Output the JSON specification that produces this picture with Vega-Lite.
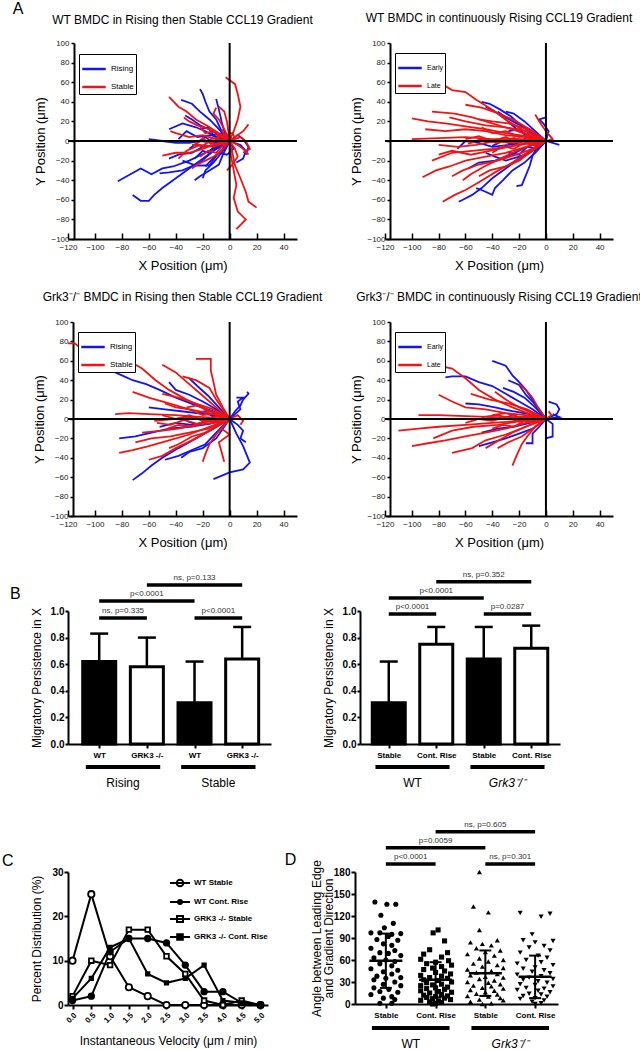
{
"$schema":"https://vega.github.io/schema/vega-lite/v6.json",
"padding":{"left":2,"top":0,"right":0,"bottom":0},
"background":"white",
"config":{"view":{"stroke":null},"font":"Liberation Sans","axis":{"grid":false,"labelOverlap":false,"labelFlush":false,"tickCount":30,"domainColor":"black","tickColor":"black","labelColor":"black","titleColor":"black","titleFontWeight":"normal"},"title":{"fontWeight":"normal","fontSize":12,"color":"black"},"legend":{"labelColor":"black"}},
"resolve":{"scale":{"color":"independent","fill":"independent","shape":"independent","size":"independent","stroke":"independent"},"legend":{"color":"independent","fill":"independent","shape":"independent","size":"independent","stroke":"independent"}},
"datasets":{
"a1":[
{"s":"Rising","k":1,"x":0,"y":0},{"s":"Rising","k":1,"x":-8,"y":-5},{"s":"Rising","k":1,"x":-18,"y":-12},{"s":"Rising","k":1,"x":-30,"y":-20},{"s":"Rising","k":1,"x":-42,"y":-26},{"s":"Rising","k":1,"x":-50,"y":-28},{"s":"Rising","k":1,"x":-58,"y":-34},{"s":"Rising","k":1,"x":-66,"y":-28},{"s":"Rising","k":1,"x":-75,"y":-35},{"s":"Rising","k":1,"x":-83,"y":-41},
{"s":"Rising","k":2,"x":0,"y":0},{"s":"Rising","k":2,"x":-10,"y":-8},{"s":"Rising","k":2,"x":-20,"y":-18},{"s":"Rising","k":2,"x":-30,"y":-28},{"s":"Rising","k":2,"x":-42,"y":-40},{"s":"Rising","k":2,"x":-50,"y":-48},{"s":"Rising","k":2,"x":-56,"y":-55},{"s":"Rising","k":2,"x":-60,"y":-61},{"s":"Rising","k":2,"x":-66,"y":-61},{"s":"Rising","k":2,"x":-72,"y":-55},
{"s":"Rising","k":3,"x":0,"y":0},{"s":"Rising","k":3,"x":-10,"y":-2},{"s":"Rising","k":3,"x":-22,"y":0},{"s":"Rising","k":3,"x":-30,"y":-2},{"s":"Rising","k":3,"x":-40,"y":-2},{"s":"Rising","k":3,"x":-50,"y":0},{"s":"Rising","k":3,"x":-60,"y":2},
{"s":"Rising","k":4,"x":0,"y":0},{"s":"Rising","k":4,"x":-6,"y":10},{"s":"Rising","k":4,"x":-10,"y":22},{"s":"Rising","k":4,"x":-15,"y":30},{"s":"Rising","k":4,"x":-18,"y":40},{"s":"Rising","k":4,"x":-20,"y":48},{"s":"Rising","k":4,"x":-22,"y":53},
{"s":"Rising","k":5,"x":0,"y":0},{"s":"Rising","k":5,"x":-8,"y":12},{"s":"Rising","k":5,"x":-15,"y":22},{"s":"Rising","k":5,"x":-22,"y":30},{"s":"Rising","k":5,"x":-28,"y":38},{"s":"Rising","k":5,"x":-36,"y":42},
{"s":"Rising","k":6,"x":0,"y":0},{"s":"Rising","k":6,"x":-12,"y":-10},{"s":"Rising","k":6,"x":-22,"y":-22},{"s":"Rising","k":6,"x":-35,"y":-30},{"s":"Rising","k":6,"x":-45,"y":-32},{"s":"Rising","k":6,"x":-52,"y":-33},
{"s":"Rising","k":7,"x":0,"y":0},{"s":"Rising","k":7,"x":-6,"y":-12},{"s":"Rising","k":7,"x":-12,"y":-22},{"s":"Rising","k":7,"x":-18,"y":-30},{"s":"Rising","k":7,"x":-20,"y":-38},
{"s":"Rising","k":8,"x":0,"y":0},{"s":"Rising","k":8,"x":-10,"y":4},{"s":"Rising","k":8,"x":-18,"y":10},{"s":"Rising","k":8,"x":-25,"y":14},{"s":"Rising","k":8,"x":-35,"y":18},{"s":"Rising","k":8,"x":-45,"y":12},
{"s":"Rising","k":9,"x":0,"y":0},{"s":"Rising","k":9,"x":-4,"y":10},{"s":"Rising","k":9,"x":-6,"y":20},{"s":"Rising","k":9,"x":-8,"y":32},{"s":"Rising","k":9,"x":-10,"y":43},
{"s":"Rising","k":10,"x":0,"y":0},{"s":"Rising","k":10,"x":8,"y":-4},{"s":"Rising","k":10,"x":12,"y":-10},{"s":"Rising","k":10,"x":10,"y":-18},{"s":"Rising","k":10,"x":5,"y":-22},
{"s":"Rising","k":11,"x":0,"y":0},{"s":"Rising","k":11,"x":-10,"y":-4},{"s":"Rising","k":11,"x":-20,"y":-6},{"s":"Rising","k":11,"x":-28,"y":-12},{"s":"Rising","k":11,"x":-38,"y":-14},{"s":"Rising","k":11,"x":-45,"y":-18},
{"s":"Rising","k":12,"x":0,"y":0},{"s":"Rising","k":12,"x":-14,"y":6},{"s":"Rising","k":12,"x":-24,"y":4},{"s":"Rising","k":12,"x":-32,"y":10},{"s":"Rising","k":12,"x":-38,"y":2},
{"s":"Rising","k":13,"x":0,"y":0},{"s":"Rising","k":13,"x":-5,"y":-14},{"s":"Rising","k":13,"x":-8,"y":-24},{"s":"Rising","k":13,"x":-15,"y":-30},{"s":"Rising","k":13,"x":-22,"y":-36},{"s":"Rising","k":13,"x":-26,"y":-40},
{"s":"Rising","k":14,"x":0,"y":0},{"s":"Rising","k":14,"x":-6,"y":4},{"s":"Rising","k":14,"x":-12,"y":10},{"s":"Rising","k":14,"x":-22,"y":16},{"s":"Rising","k":14,"x":-28,"y":22},{"s":"Rising","k":14,"x":-33,"y":26},
{"s":"Rising","k":15,"x":0,"y":0},{"s":"Rising","k":15,"x":6,"y":6},{"s":"Rising","k":15,"x":10,"y":2},{"s":"Rising","k":15,"x":14,"y":-6},{"s":"Rising","k":15,"x":12,"y":-14},
{"s":"Rising","k":16,"x":0,"y":0},{"s":"Rising","k":16,"x":-10,"y":-15},{"s":"Rising","k":16,"x":-15,"y":-25},{"s":"Rising","k":16,"x":-25,"y":-25},{"s":"Rising","k":16,"x":-35,"y":-20},
{"s":"Rising","k":17,"x":0,"y":0},{"s":"Rising","k":17,"x":-5,"y":3},{"s":"Rising","k":17,"x":-12,"y":-2},{"s":"Rising","k":17,"x":-18,"y":4},{"s":"Rising","k":17,"x":-25,"y":-3},{"s":"Rising","k":17,"x":-30,"y":-8},
{"s":"Rising","k":18,"x":0,"y":0},{"s":"Rising","k":18,"x":-4,"y":-6},{"s":"Rising","k":18,"x":-10,"y":-4},{"s":"Rising","k":18,"x":-16,"y":-12},{"s":"Rising","k":18,"x":-20,"y":-10},{"s":"Rising","k":18,"x":-26,"y":-18},
{"s":"Rising","k":19,"x":0,"y":0},{"s":"Rising","k":19,"x":-6,"y":8},{"s":"Rising","k":19,"x":-12,"y":6},{"s":"Rising","k":19,"x":-16,"y":14},{"s":"Rising","k":19,"x":-22,"y":12},
{"s":"Rising","k":20,"x":0,"y":0},{"s":"Rising","k":20,"x":3,"y":-8},{"s":"Rising","k":20,"x":-2,"y":-14},{"s":"Rising","k":20,"x":-8,"y":-12},{"s":"Rising","k":20,"x":-14,"y":-20},{"s":"Rising","k":20,"x":-18,"y":-26},
{"s":"Stable","k":1,"x":0,"y":0},{"s":"Stable","k":1,"x":3,"y":10},{"s":"Stable","k":1,"x":6,"y":22},{"s":"Stable","k":1,"x":8,"y":35},{"s":"Stable","k":1,"x":6,"y":48},{"s":"Stable","k":1,"x":4,"y":58},{"s":"Stable","k":1,"x":-3,"y":65},
{"s":"Stable","k":2,"x":0,"y":0},{"s":"Stable","k":2,"x":2,"y":-12},{"s":"Stable","k":2,"x":4,"y":-25},{"s":"Stable","k":2,"x":8,"y":-38},{"s":"Stable","k":2,"x":12,"y":-52},{"s":"Stable","k":2,"x":14,"y":-62},{"s":"Stable","k":2,"x":20,"y":-68},
{"s":"Stable","k":3,"x":0,"y":0},{"s":"Stable","k":3,"x":1,"y":-15},{"s":"Stable","k":3,"x":3,"y":-30},{"s":"Stable","k":3,"x":5,"y":-45},{"s":"Stable","k":3,"x":3,"y":-58},{"s":"Stable","k":3,"x":6,"y":-72},{"s":"Stable","k":3,"x":12,"y":-80},{"s":"Stable","k":3,"x":5,"y":-90},
{"s":"Stable","k":4,"x":0,"y":0},{"s":"Stable","k":4,"x":-8,"y":8},{"s":"Stable","k":4,"x":-16,"y":15},{"s":"Stable","k":4,"x":-25,"y":22},{"s":"Stable","k":4,"x":-32,"y":30},{"s":"Stable","k":4,"x":-38,"y":35},{"s":"Stable","k":4,"x":-45,"y":45},
{"s":"Stable","k":5,"x":0,"y":0},{"s":"Stable","k":5,"x":-10,"y":-3},{"s":"Stable","k":5,"x":-20,"y":-8},{"s":"Stable","k":5,"x":-30,"y":-12},{"s":"Stable","k":5,"x":-40,"y":-12},{"s":"Stable","k":5,"x":-50,"y":-15},
{"s":"Stable","k":6,"x":0,"y":0},{"s":"Stable","k":6,"x":-8,"y":6},{"s":"Stable","k":6,"x":-15,"y":12},{"s":"Stable","k":6,"x":-24,"y":16},{"s":"Stable","k":6,"x":-30,"y":20},{"s":"Stable","k":6,"x":-34,"y":24},
{"s":"Stable","k":7,"x":0,"y":0},{"s":"Stable","k":7,"x":5,"y":5},{"s":"Stable","k":7,"x":10,"y":10},{"s":"Stable","k":7,"x":14,"y":17},
{"s":"Stable","k":8,"x":0,"y":0},{"s":"Stable","k":8,"x":6,"y":-4},{"s":"Stable","k":8,"x":10,"y":-8},{"s":"Stable","k":8,"x":14,"y":-14},
{"s":"Stable","k":9,"x":0,"y":0},{"s":"Stable","k":9,"x":-6,"y":-10},{"s":"Stable","k":9,"x":-12,"y":-16},{"s":"Stable","k":9,"x":-18,"y":-20},{"s":"Stable","k":9,"x":-24,"y":-24},{"s":"Stable","k":9,"x":-28,"y":-28},
{"s":"Stable","k":10,"x":0,"y":0},{"s":"Stable","k":10,"x":-10,"y":2},{"s":"Stable","k":10,"x":-20,"y":6},{"s":"Stable","k":10,"x":-30,"y":4},{"s":"Stable","k":10,"x":-40,"y":8},{"s":"Stable","k":10,"x":-44,"y":10},
{"s":"Stable","k":11,"x":0,"y":0},{"s":"Stable","k":11,"x":-4,"y":12},{"s":"Stable","k":11,"x":-8,"y":22},{"s":"Stable","k":11,"x":-12,"y":28},{"s":"Stable","k":11,"x":-10,"y":34},
{"s":"Stable","k":12,"x":0,"y":0},{"s":"Stable","k":12,"x":-12,"y":-6},{"s":"Stable","k":12,"x":-22,"y":-4},{"s":"Stable","k":12,"x":-32,"y":-10},{"s":"Stable","k":12,"x":-38,"y":-18},
{"s":"Stable","k":13,"x":0,"y":0},{"s":"Stable","k":13,"x":4,"y":-8},{"s":"Stable","k":13,"x":6,"y":-16},{"s":"Stable","k":13,"x":2,"y":-24},{"s":"Stable","k":13,"x":-2,"y":-30},
{"s":"Stable","k":14,"x":0,"y":0},{"s":"Stable","k":14,"x":-6,"y":4},{"s":"Stable","k":14,"x":-14,"y":2},{"s":"Stable","k":14,"x":-20,"y":-6},{"s":"Stable","k":14,"x":-26,"y":-2},
{"s":"Stable","k":15,"x":0,"y":0},{"s":"Stable","k":15,"x":-2,"y":20},{"s":"Stable","k":15,"x":-4,"y":30},{"s":"Stable","k":15,"x":-8,"y":35},
{"s":"Stable","k":16,"x":0,"y":0},{"s":"Stable","k":16,"x":8,"y":4},{"s":"Stable","k":16,"x":12,"y":0},{"s":"Stable","k":16,"x":15,"y":-8},{"s":"Stable","k":16,"x":10,"y":-12},
{"s":"Stable","k":17,"x":0,"y":0},{"s":"Stable","k":17,"x":-4,"y":-4},{"s":"Stable","k":17,"x":-9,"y":2},{"s":"Stable","k":17,"x":-14,"y":-3},{"s":"Stable","k":17,"x":-20,"y":3},{"s":"Stable","k":17,"x":-24,"y":-2},
{"s":"Stable","k":18,"x":0,"y":0},{"s":"Stable","k":18,"x":-3,"y":6},{"s":"Stable","k":18,"x":-8,"y":4},{"s":"Stable","k":18,"x":-12,"y":10},{"s":"Stable","k":18,"x":-18,"y":8},{"s":"Stable","k":18,"x":-22,"y":14},
{"s":"Stable","k":19,"x":0,"y":0},{"s":"Stable","k":19,"x":-6,"y":-6},{"s":"Stable","k":19,"x":-10,"y":-12},{"s":"Stable","k":19,"x":-16,"y":-10},{"s":"Stable","k":19,"x":-22,"y":-16},
{"s":"Stable","k":20,"x":0,"y":0},{"s":"Stable","k":20,"x":4,"y":3},{"s":"Stable","k":20,"x":2,"y":8},{"s":"Stable","k":20,"x":-4,"y":6},{"s":"Stable","k":20,"x":-6,"y":12},
{"s":"Stable","k":21,"x":0,"y":0},{"s":"Stable","k":21,"x":-5,"y":1},{"s":"Stable","k":21,"x":-10,"y":-4},{"s":"Stable","k":21,"x":-15,"y":0},{"s":"Stable","k":21,"x":-20,"y":-5},{"s":"Stable","k":21,"x":-28,"y":-4}
],
"a2":[
{"s":"Early","k":1,"x":0,"y":0},{"s":"Early","k":1,"x":-10,"y":-10},{"s":"Early","k":1,"x":-20,"y":-18},{"s":"Early","k":1,"x":-30,"y":-28},{"s":"Early","k":1,"x":-40,"y":-38},{"s":"Early","k":1,"x":-48,"y":-48},{"s":"Early","k":1,"x":-55,"y":-55},{"s":"Early","k":1,"x":-62,"y":-60},{"s":"Early","k":1,"x":-65,"y":-62},
{"s":"Early","k":2,"x":0,"y":0},{"s":"Early","k":2,"x":-8,"y":-12},{"s":"Early","k":2,"x":-16,"y":-22},{"s":"Early","k":2,"x":-25,"y":-30},{"s":"Early","k":2,"x":-32,"y":-40},{"s":"Early","k":2,"x":-38,"y":-48},{"s":"Early","k":2,"x":-40,"y":-55},{"s":"Early","k":2,"x":-48,"y":-50},{"s":"Early","k":2,"x":-52,"y":-48},
{"s":"Early","k":3,"x":0,"y":0},{"s":"Early","k":3,"x":-10,"y":8},{"s":"Early","k":3,"x":-18,"y":15},{"s":"Early","k":3,"x":-26,"y":25},{"s":"Early","k":3,"x":-34,"y":32},{"s":"Early","k":3,"x":-42,"y":38},{"s":"Early","k":3,"x":-48,"y":40},
{"s":"Early","k":4,"x":0,"y":0},{"s":"Early","k":4,"x":-10,"y":5},{"s":"Early","k":4,"x":-20,"y":10},{"s":"Early","k":4,"x":-30,"y":22},{"s":"Early","k":4,"x":-38,"y":30},{"s":"Early","k":4,"x":-45,"y":35},
{"s":"Early","k":5,"x":0,"y":0},{"s":"Early","k":5,"x":-6,"y":-5},{"s":"Early","k":5,"x":-10,"y":-15},{"s":"Early","k":5,"x":-12,"y":-25},{"s":"Early","k":5,"x":-15,"y":-35},{"s":"Early","k":5,"x":-18,"y":-45},{"s":"Early","k":5,"x":-22,"y":-46},
{"s":"Early","k":6,"x":0,"y":0},{"s":"Early","k":6,"x":-12,"y":-12},{"s":"Early","k":6,"x":-20,"y":-16},{"s":"Early","k":6,"x":-30,"y":-20},{"s":"Early","k":6,"x":-38,"y":-16},{"s":"Early","k":6,"x":-45,"y":-12},
{"s":"Early","k":7,"x":0,"y":0},{"s":"Early","k":7,"x":-15,"y":2},{"s":"Early","k":7,"x":-28,"y":-4},{"s":"Early","k":7,"x":-40,"y":-6},{"s":"Early","k":7,"x":-50,"y":-2},{"s":"Early","k":7,"x":-60,"y":0},{"s":"Early","k":7,"x":-66,"y":-8},
{"s":"Early","k":8,"x":0,"y":0},{"s":"Early","k":8,"x":2,"y":10},{"s":"Early","k":8,"x":-2,"y":18},{"s":"Early","k":8,"x":-5,"y":22},{"s":"Early","k":8,"x":0,"y":24},
{"s":"Early","k":9,"x":0,"y":0},{"s":"Early","k":9,"x":5,"y":-2},{"s":"Early","k":9,"x":10,"y":-4},
{"s":"Early","k":10,"x":0,"y":0},{"s":"Early","k":10,"x":-8,"y":10},{"s":"Early","k":10,"x":-16,"y":20},{"s":"Early","k":10,"x":-24,"y":28},{"s":"Early","k":10,"x":-30,"y":30},
{"s":"Early","k":11,"x":0,"y":0},{"s":"Early","k":11,"x":-14,"y":-6},{"s":"Early","k":11,"x":-26,"y":-14},{"s":"Early","k":11,"x":-38,"y":-20},{"s":"Early","k":11,"x":-50,"y":-22},{"s":"Early","k":11,"x":-58,"y":-28},
{"s":"Early","k":12,"x":0,"y":0},{"s":"Early","k":12,"x":-12,"y":12},{"s":"Early","k":12,"x":-22,"y":18},{"s":"Early","k":12,"x":-30,"y":24},{"s":"Early","k":12,"x":-36,"y":30},
{"s":"Early","k":13,"x":0,"y":0},{"s":"Early","k":13,"x":-8,"y":-3},{"s":"Early","k":13,"x":-16,"y":2},{"s":"Early","k":13,"x":-24,"y":-4},{"s":"Early","k":13,"x":-32,"y":0},{"s":"Early","k":13,"x":-40,"y":-5},
{"s":"Early","k":14,"x":0,"y":0},{"s":"Early","k":14,"x":-6,"y":6},{"s":"Early","k":14,"x":-14,"y":4},{"s":"Early","k":14,"x":-20,"y":12},{"s":"Early","k":14,"x":-28,"y":10},
{"s":"Early","k":15,"x":0,"y":0},{"s":"Early","k":15,"x":-6,"y":-8},{"s":"Early","k":15,"x":-14,"y":-6},{"s":"Early","k":15,"x":-20,"y":-14},{"s":"Early","k":15,"x":-28,"y":-12},
{"s":"Late","k":1,"x":0,"y":0},{"s":"Late","k":1,"x":-8,"y":5},{"s":"Late","k":1,"x":-18,"y":12},{"s":"Late","k":1,"x":-28,"y":20},{"s":"Late","k":1,"x":-40,"y":32},{"s":"Late","k":1,"x":-52,"y":42},{"s":"Late","k":1,"x":-60,"y":50},{"s":"Late","k":1,"x":-70,"y":52},{"s":"Late","k":1,"x":-80,"y":60},{"s":"Late","k":1,"x":-88,"y":62},{"s":"Late","k":1,"x":-95,"y":60},{"s":"Late","k":1,"x":-105,"y":70},
{"s":"Late","k":2,"x":0,"y":0},{"s":"Late","k":2,"x":-15,"y":5},{"s":"Late","k":2,"x":-30,"y":8},{"s":"Late","k":2,"x":-45,"y":12},{"s":"Late","k":2,"x":-60,"y":15},{"s":"Late","k":2,"x":-75,"y":18},{"s":"Late","k":2,"x":-88,"y":20},{"s":"Late","k":2,"x":-100,"y":23},
{"s":"Late","k":3,"x":0,"y":0},{"s":"Late","k":3,"x":-15,"y":-6},{"s":"Late","k":3,"x":-30,"y":-12},{"s":"Late","k":3,"x":-45,"y":-16},{"s":"Late","k":3,"x":-60,"y":-20},{"s":"Late","k":3,"x":-72,"y":-26},{"s":"Late","k":3,"x":-82,"y":-30},{"s":"Late","k":3,"x":-92,"y":-37},
{"s":"Late","k":4,"x":0,"y":0},{"s":"Late","k":4,"x":-12,"y":-10},{"s":"Late","k":4,"x":-25,"y":-22},{"s":"Late","k":4,"x":-38,"y":-32},{"s":"Late","k":4,"x":-50,"y":-42},{"s":"Late","k":4,"x":-60,"y":-50},{"s":"Late","k":4,"x":-68,"y":-55},{"s":"Late","k":4,"x":-77,"y":-62},
{"s":"Late","k":5,"x":0,"y":0},{"s":"Late","k":5,"x":-20,"y":2},{"s":"Late","k":5,"x":-40,"y":2},{"s":"Late","k":5,"x":-60,"y":4},{"s":"Late","k":5,"x":-80,"y":3},{"s":"Late","k":5,"x":-100,"y":2},
{"s":"Late","k":6,"x":0,"y":0},{"s":"Late","k":6,"x":-12,"y":6},{"s":"Late","k":6,"x":-26,"y":12},{"s":"Late","k":6,"x":-40,"y":18},{"s":"Late","k":6,"x":-55,"y":24},{"s":"Late","k":6,"x":-68,"y":28},{"s":"Late","k":6,"x":-85,"y":30},
{"s":"Late","k":7,"x":0,"y":0},{"s":"Late","k":7,"x":-10,"y":10},{"s":"Late","k":7,"x":-22,"y":20},{"s":"Late","k":7,"x":-35,"y":28},{"s":"Late","k":7,"x":-48,"y":34},{"s":"Late","k":7,"x":-60,"y":37},
{"s":"Late","k":8,"x":0,"y":0},{"s":"Late","k":8,"x":-14,"y":-2},{"s":"Late","k":8,"x":-28,"y":-6},{"s":"Late","k":8,"x":-42,"y":-10},{"s":"Late","k":8,"x":-56,"y":-14},{"s":"Late","k":8,"x":-70,"y":-10},{"s":"Late","k":8,"x":-80,"y":-14},
{"s":"Late","k":9,"x":0,"y":0},{"s":"Late","k":9,"x":-10,"y":-8},{"s":"Late","k":9,"x":-22,"y":-14},{"s":"Late","k":9,"x":-36,"y":-20},{"s":"Late","k":9,"x":-50,"y":-24},{"s":"Late","k":9,"x":-62,"y":-30},{"s":"Late","k":9,"x":-70,"y":-36},
{"s":"Late","k":10,"x":0,"y":0},{"s":"Late","k":10,"x":-15,"y":4},{"s":"Late","k":10,"x":-30,"y":6},{"s":"Late","k":10,"x":-45,"y":10},{"s":"Late","k":10,"x":-60,"y":12},{"s":"Late","k":10,"x":-75,"y":10},{"s":"Late","k":10,"x":-90,"y":12},
{"s":"Late","k":11,"x":0,"y":0},{"s":"Late","k":11,"x":-10,"y":-4},{"s":"Late","k":11,"x":-22,"y":-10},{"s":"Late","k":11,"x":-34,"y":-18},{"s":"Late","k":11,"x":-46,"y":-26},{"s":"Late","k":11,"x":-56,"y":-34},{"s":"Late","k":11,"x":-62,"y":-40},
{"s":"Late","k":12,"x":0,"y":0},{"s":"Late","k":12,"x":-12,"y":2},{"s":"Late","k":12,"x":-24,"y":-2},{"s":"Late","k":12,"x":-38,"y":0},{"s":"Late","k":12,"x":-52,"y":-4},{"s":"Late","k":12,"x":-66,"y":-6},{"s":"Late","k":12,"x":-80,"y":-4},
{"s":"Late","k":13,"x":0,"y":0},{"s":"Late","k":13,"x":-8,"y":8},{"s":"Late","k":13,"x":-18,"y":14},{"s":"Late","k":13,"x":-28,"y":18},{"s":"Late","k":13,"x":-40,"y":20},{"s":"Late","k":13,"x":-50,"y":22},
{"s":"Late","k":14,"x":0,"y":0},{"s":"Late","k":14,"x":-10,"y":-10},{"s":"Late","k":14,"x":-20,"y":-20},{"s":"Late","k":14,"x":-30,"y":-26},{"s":"Late","k":14,"x":-42,"y":-30},{"s":"Late","k":14,"x":-50,"y":-36},
{"s":"Late","k":15,"x":0,"y":0},{"s":"Late","k":15,"x":5,"y":2},{"s":"Late","k":15,"x":0,"y":10},{"s":"Late","k":15,"x":-5,"y":20},{"s":"Late","k":15,"x":-8,"y":27},
{"s":"Late","k":16,"x":0,"y":0},{"s":"Late","k":16,"x":-15,"y":10},{"s":"Late","k":16,"x":-30,"y":14},{"s":"Late","k":16,"x":-45,"y":16},{"s":"Late","k":16,"x":-60,"y":20},{"s":"Late","k":16,"x":-72,"y":24},
{"s":"Late","k":17,"x":0,"y":0},{"s":"Late","k":17,"x":-20,"y":-4},{"s":"Late","k":17,"x":-40,"y":-8},{"s":"Late","k":17,"x":-55,"y":-10},{"s":"Late","k":17,"x":-70,"y":-12},{"s":"Late","k":17,"x":-85,"y":-20},
{"s":"Late","k":18,"x":0,"y":0},{"s":"Late","k":18,"x":-10,"y":3},{"s":"Late","k":18,"x":-20,"y":-2},{"s":"Late","k":18,"x":-30,"y":4},{"s":"Late","k":18,"x":-40,"y":0},{"s":"Late","k":18,"x":-50,"y":5},{"s":"Late","k":18,"x":-60,"y":2},
{"s":"Late","k":19,"x":0,"y":0},{"s":"Late","k":19,"x":-8,"y":-5},{"s":"Late","k":19,"x":-16,"y":-2},{"s":"Late","k":19,"x":-24,"y":-8},{"s":"Late","k":19,"x":-32,"y":-5},{"s":"Late","k":19,"x":-40,"y":-12},
{"s":"Late","k":20,"x":0,"y":0},{"s":"Late","k":20,"x":-10,"y":6},{"s":"Late","k":20,"x":-20,"y":4},{"s":"Late","k":20,"x":-30,"y":10},{"s":"Late","k":20,"x":-40,"y":8},{"s":"Late","k":20,"x":-48,"y":14},
{"s":"Late","k":21,"x":0,"y":0},{"s":"Late","k":21,"x":-12,"y":-2},{"s":"Late","k":21,"x":-24,"y":3},{"s":"Late","k":21,"x":-36,"y":-2},{"s":"Late","k":21,"x":-48,"y":2},{"s":"Late","k":21,"x":-58,"y":-3}
],
"a3":[
{"s":"Rising","k":1,"x":0,"y":0},{"s":"Rising","k":1,"x":-12,"y":8},{"s":"Rising","k":1,"x":-25,"y":14},{"s":"Rising","k":1,"x":-40,"y":22},{"s":"Rising","k":1,"x":-52,"y":30},{"s":"Rising","k":1,"x":-62,"y":36},{"s":"Rising","k":1,"x":-72,"y":40},{"s":"Rising","k":1,"x":-80,"y":45},{"s":"Rising","k":1,"x":-88,"y":50},{"s":"Rising","k":1,"x":-90,"y":55},{"s":"Rising","k":1,"x":-92,"y":58},
{"s":"Rising","k":2,"x":0,"y":0},{"s":"Rising","k":2,"x":-12,"y":-10},{"s":"Rising","k":2,"x":-25,"y":-20},{"s":"Rising","k":2,"x":-38,"y":-30},{"s":"Rising","k":2,"x":-50,"y":-40},{"s":"Rising","k":2,"x":-58,"y":-48},{"s":"Rising","k":2,"x":-65,"y":-56},{"s":"Rising","k":2,"x":-72,"y":-63},
{"s":"Rising","k":3,"x":0,"y":0},{"s":"Rising","k":3,"x":-15,"y":-5},{"s":"Rising","k":3,"x":-30,"y":-8},{"s":"Rising","k":3,"x":-45,"y":-10},{"s":"Rising","k":3,"x":-58,"y":-14},{"s":"Rising","k":3,"x":-70,"y":-18},{"s":"Rising","k":3,"x":-82,"y":-20},
{"s":"Rising","k":4,"x":0,"y":0},{"s":"Rising","k":4,"x":5,"y":-15},{"s":"Rising","k":4,"x":10,"y":-28},{"s":"Rising","k":4,"x":15,"y":-45},{"s":"Rising","k":4,"x":10,"y":-52},{"s":"Rising","k":4,"x":0,"y":-55},{"s":"Rising","k":4,"x":-12,"y":-62},
{"s":"Rising","k":5,"x":0,"y":0},{"s":"Rising","k":5,"x":4,"y":8},{"s":"Rising","k":5,"x":8,"y":14},{"s":"Rising","k":5,"x":10,"y":20},{"s":"Rising","k":5,"x":14,"y":26},{"s":"Rising","k":5,"x":13,"y":28},
{"s":"Rising","k":6,"x":0,"y":0},{"s":"Rising","k":6,"x":-10,"y":10},{"s":"Rising","k":6,"x":-20,"y":18},{"s":"Rising","k":6,"x":-30,"y":25},{"s":"Rising","k":6,"x":-40,"y":30},{"s":"Rising","k":6,"x":-45,"y":38},
{"s":"Rising","k":7,"x":0,"y":0},{"s":"Rising","k":7,"x":-12,"y":4},{"s":"Rising","k":7,"x":-24,"y":6},{"s":"Rising","k":7,"x":-36,"y":8},{"s":"Rising","k":7,"x":-48,"y":10},{"s":"Rising","k":7,"x":-60,"y":12},
{"s":"Rising","k":8,"x":0,"y":0},{"s":"Rising","k":8,"x":-10,"y":-14},{"s":"Rising","k":8,"x":-18,"y":-26},{"s":"Rising","k":8,"x":-28,"y":-32},{"s":"Rising","k":8,"x":-38,"y":-38},{"s":"Rising","k":8,"x":-48,"y":-42},
{"s":"Rising","k":9,"x":0,"y":0},{"s":"Rising","k":9,"x":-8,"y":12},{"s":"Rising","k":9,"x":-16,"y":24},{"s":"Rising","k":9,"x":-24,"y":34},{"s":"Rising","k":9,"x":-30,"y":42},
{"s":"Rising","k":10,"x":0,"y":0},{"s":"Rising","k":10,"x":6,"y":-6},{"s":"Rising","k":10,"x":10,"y":-12},{"s":"Rising","k":10,"x":8,"y":-20},{"s":"Rising","k":10,"x":12,"y":-24},
{"s":"Rising","k":11,"x":0,"y":0},{"s":"Rising","k":11,"x":-14,"y":-2},{"s":"Rising","k":11,"x":-28,"y":-6},{"s":"Rising","k":11,"x":-40,"y":-4},{"s":"Rising","k":11,"x":-52,"y":-8},
{"s":"Rising","k":12,"x":0,"y":0},{"s":"Rising","k":12,"x":-10,"y":-20},{"s":"Rising","k":12,"x":-20,"y":-30},{"s":"Rising","k":12,"x":-30,"y":-34},{"s":"Rising","k":12,"x":-36,"y":-40},
{"s":"Rising","k":13,"x":0,"y":0},{"s":"Rising","k":13,"x":8,"y":10},{"s":"Rising","k":13,"x":6,"y":18},{"s":"Rising","k":13,"x":10,"y":22},{"s":"Rising","k":13,"x":5,"y":22},
{"s":"Rising","k":14,"x":0,"y":0},{"s":"Rising","k":14,"x":-8,"y":-4},{"s":"Rising","k":14,"x":-16,"y":0},{"s":"Rising","k":14,"x":-24,"y":-6},{"s":"Rising","k":14,"x":-32,"y":-2},
{"s":"Rising","k":15,"x":0,"y":0},{"s":"Rising","k":15,"x":-6,"y":6},{"s":"Rising","k":15,"x":-12,"y":2},{"s":"Rising","k":15,"x":-18,"y":8},{"s":"Rising","k":15,"x":-26,"y":6},
{"s":"Stable","k":1,"x":0,"y":0},{"s":"Stable","k":1,"x":-10,"y":5},{"s":"Stable","k":1,"x":-20,"y":12},{"s":"Stable","k":1,"x":-32,"y":20},{"s":"Stable","k":1,"x":-45,"y":30},{"s":"Stable","k":1,"x":-55,"y":40},{"s":"Stable","k":1,"x":-65,"y":52},{"s":"Stable","k":1,"x":-75,"y":60},{"s":"Stable","k":1,"x":-90,"y":66},{"s":"Stable","k":1,"x":-105,"y":67},{"s":"Stable","k":1,"x":-115,"y":78},{"s":"Stable","k":1,"x":-120,"y":78},
{"s":"Stable","k":2,"x":0,"y":0},{"s":"Stable","k":2,"x":-20,"y":2},{"s":"Stable","k":2,"x":-40,"y":4},{"s":"Stable","k":2,"x":-60,"y":5},{"s":"Stable","k":2,"x":-75,"y":6},{"s":"Stable","k":2,"x":-85,"y":5},
{"s":"Stable","k":3,"x":0,"y":0},{"s":"Stable","k":3,"x":-15,"y":-8},{"s":"Stable","k":3,"x":-30,"y":-16},{"s":"Stable","k":3,"x":-45,"y":-22},{"s":"Stable","k":3,"x":-60,"y":-28},{"s":"Stable","k":3,"x":-72,"y":-32},{"s":"Stable","k":3,"x":-82,"y":-35},
{"s":"Stable","k":4,"x":0,"y":0},{"s":"Stable","k":4,"x":-5,"y":12},{"s":"Stable","k":4,"x":-10,"y":25},{"s":"Stable","k":4,"x":-12,"y":38},{"s":"Stable","k":4,"x":-14,"y":50},{"s":"Stable","k":4,"x":-14,"y":62},{"s":"Stable","k":4,"x":-25,"y":62},
{"s":"Stable","k":5,"x":0,"y":0},{"s":"Stable","k":5,"x":-10,"y":12},{"s":"Stable","k":5,"x":-20,"y":24},{"s":"Stable","k":5,"x":-30,"y":36},{"s":"Stable","k":5,"x":-40,"y":48},{"s":"Stable","k":5,"x":-50,"y":56},
{"s":"Stable","k":6,"x":0,"y":0},{"s":"Stable","k":6,"x":-15,"y":-12},{"s":"Stable","k":6,"x":-28,"y":-22},{"s":"Stable","k":6,"x":-40,"y":-30},{"s":"Stable","k":6,"x":-50,"y":-38},{"s":"Stable","k":6,"x":-60,"y":-42},
{"s":"Stable","k":7,"x":0,"y":0},{"s":"Stable","k":7,"x":-15,"y":6},{"s":"Stable","k":7,"x":-30,"y":10},{"s":"Stable","k":7,"x":-45,"y":16},{"s":"Stable","k":7,"x":-60,"y":22},{"s":"Stable","k":7,"x":-72,"y":28},
{"s":"Stable","k":8,"x":0,"y":0},{"s":"Stable","k":8,"x":-12,"y":-4},{"s":"Stable","k":8,"x":-25,"y":-6},{"s":"Stable","k":8,"x":-38,"y":-10},{"s":"Stable","k":8,"x":-50,"y":-12},{"s":"Stable","k":8,"x":-65,"y":-14},
{"s":"Stable","k":9,"x":0,"y":0},{"s":"Stable","k":9,"x":-10,"y":-16},{"s":"Stable","k":9,"x":-15,"y":-26},{"s":"Stable","k":9,"x":-18,"y":-36},{"s":"Stable","k":9,"x":-20,"y":-44},
{"s":"Stable","k":10,"x":0,"y":0},{"s":"Stable","k":10,"x":-6,"y":-10},{"s":"Stable","k":10,"x":0,"y":-16},{"s":"Stable","k":10,"x":-8,"y":-24},{"s":"Stable","k":10,"x":-4,"y":-44},
{"s":"Stable","k":11,"x":0,"y":0},{"s":"Stable","k":11,"x":-12,"y":10},{"s":"Stable","k":11,"x":-25,"y":16},{"s":"Stable","k":11,"x":-38,"y":22},{"s":"Stable","k":11,"x":-50,"y":26},
{"s":"Stable","k":12,"x":0,"y":0},{"s":"Stable","k":12,"x":-14,"y":-2},{"s":"Stable","k":12,"x":-28,"y":2},{"s":"Stable","k":12,"x":-42,"y":0},{"s":"Stable","k":12,"x":-56,"y":-2},
{"s":"Stable","k":13,"x":0,"y":0},{"s":"Stable","k":13,"x":-10,"y":20},{"s":"Stable","k":13,"x":-15,"y":32},{"s":"Stable","k":13,"x":-25,"y":40},{"s":"Stable","k":13,"x":-35,"y":44},
{"s":"Stable","k":14,"x":0,"y":0},{"s":"Stable","k":14,"x":6,"y":4},{"s":"Stable","k":14,"x":10,"y":-2},{"s":"Stable","k":14,"x":8,"y":-6},
{"s":"Stable","k":15,"x":0,"y":0},{"s":"Stable","k":15,"x":-16,"y":-10},{"s":"Stable","k":15,"x":-30,"y":-14},{"s":"Stable","k":15,"x":-44,"y":-18},{"s":"Stable","k":15,"x":-58,"y":-20},{"s":"Stable","k":15,"x":-70,"y":-24},
{"s":"Stable","k":16,"x":0,"y":0},{"s":"Stable","k":16,"x":-10,"y":6},{"s":"Stable","k":16,"x":-20,"y":4},{"s":"Stable","k":16,"x":-30,"y":10},{"s":"Stable","k":16,"x":-40,"y":12},{"s":"Stable","k":16,"x":-48,"y":16},
{"s":"Stable","k":17,"x":0,"y":0},{"s":"Stable","k":17,"x":-8,"y":-6},{"s":"Stable","k":17,"x":-18,"y":-14},{"s":"Stable","k":17,"x":-28,"y":-18},{"s":"Stable","k":17,"x":-38,"y":-26},{"s":"Stable","k":17,"x":-45,"y":-30},
{"s":"Stable","k":18,"x":0,"y":0},{"s":"Stable","k":18,"x":-10,"y":3},{"s":"Stable","k":18,"x":-20,"y":-2},{"s":"Stable","k":18,"x":-30,"y":4},{"s":"Stable","k":18,"x":-40,"y":0},{"s":"Stable","k":18,"x":-50,"y":4},
{"s":"Stable","k":19,"x":0,"y":0},{"s":"Stable","k":19,"x":-8,"y":-4},{"s":"Stable","k":19,"x":-18,"y":-2},{"s":"Stable","k":19,"x":-28,"y":-8},{"s":"Stable","k":19,"x":-38,"y":-6},{"s":"Stable","k":19,"x":-46,"y":-10},
{"s":"Stable","k":20,"x":0,"y":0},{"s":"Stable","k":20,"x":-8,"y":6},{"s":"Stable","k":20,"x":-16,"y":8},{"s":"Stable","k":20,"x":-24,"y":14},{"s":"Stable","k":20,"x":-32,"y":12},
{"s":"Stable","k":21,"x":0,"y":0},{"s":"Stable","k":21,"x":-12,"y":-1},{"s":"Stable","k":21,"x":-24,"y":-5},{"s":"Stable","k":21,"x":-34,"y":-1},{"s":"Stable","k":21,"x":-44,"y":-6},{"s":"Stable","k":21,"x":-54,"y":-4}
],
"a4":[
{"s":"Early","k":1,"x":0,"y":0},{"s":"Early","k":1,"x":-5,"y":10},{"s":"Early","k":1,"x":-10,"y":20},{"s":"Early","k":1,"x":-15,"y":30},{"s":"Early","k":1,"x":-20,"y":38},{"s":"Early","k":1,"x":-25,"y":45},{"s":"Early","k":1,"x":-30,"y":55},{"s":"Early","k":1,"x":-40,"y":60},
{"s":"Early","k":2,"x":0,"y":0},{"s":"Early","k":2,"x":-10,"y":10},{"s":"Early","k":2,"x":-20,"y":18},{"s":"Early","k":2,"x":-30,"y":26},{"s":"Early","k":2,"x":-40,"y":34},{"s":"Early","k":2,"x":-50,"y":38},{"s":"Early","k":2,"x":-60,"y":44},{"s":"Early","k":2,"x":-70,"y":44},{"s":"Early","k":2,"x":-75,"y":43},
{"s":"Early","k":3,"x":0,"y":0},{"s":"Early","k":3,"x":8,"y":5},{"s":"Early","k":3,"x":10,"y":10},{"s":"Early","k":3,"x":8,"y":15},{"s":"Early","k":3,"x":2,"y":18},
{"s":"Early","k":4,"x":0,"y":0},{"s":"Early","k":4,"x":-10,"y":-10},{"s":"Early","k":4,"x":-20,"y":-15},{"s":"Early","k":4,"x":-30,"y":-20},{"s":"Early","k":4,"x":-40,"y":-24},{"s":"Early","k":4,"x":-50,"y":-28},
{"s":"Early","k":5,"x":0,"y":0},{"s":"Early","k":5,"x":-5,"y":-8},{"s":"Early","k":5,"x":-10,"y":-15},{"s":"Early","k":5,"x":-10,"y":-25},{"s":"Early","k":5,"x":-15,"y":-25},
{"s":"Early","k":6,"x":0,"y":0},{"s":"Early","k":6,"x":-12,"y":5},{"s":"Early","k":6,"x":-25,"y":8},{"s":"Early","k":6,"x":-38,"y":12},{"s":"Early","k":6,"x":-50,"y":15},{"s":"Early","k":6,"x":-60,"y":16},
{"s":"Early","k":7,"x":0,"y":0},{"s":"Early","k":7,"x":-8,"y":12},{"s":"Early","k":7,"x":-16,"y":22},{"s":"Early","k":7,"x":-24,"y":28},{"s":"Early","k":7,"x":-32,"y":32},
{"s":"Early","k":8,"x":0,"y":0},{"s":"Early","k":8,"x":5,"y":-5},{"s":"Early","k":8,"x":5,"y":-18},{"s":"Early","k":8,"x":0,"y":-20},
{"s":"Early","k":9,"x":0,"y":0},{"s":"Early","k":9,"x":10,"y":2},{"s":"Early","k":9,"x":5,"y":5},
{"s":"Early","k":10,"x":0,"y":0},{"s":"Early","k":10,"x":-12,"y":-4},{"s":"Early","k":10,"x":-24,"y":-8},{"s":"Early","k":10,"x":-36,"y":-10},{"s":"Early","k":10,"x":-48,"y":-14},
{"s":"Early","k":11,"x":0,"y":0},{"s":"Early","k":11,"x":-10,"y":18},{"s":"Early","k":11,"x":-15,"y":25},{"s":"Early","k":11,"x":-20,"y":35},{"s":"Early","k":11,"x":-28,"y":40},
{"s":"Early","k":12,"x":0,"y":0},{"s":"Early","k":12,"x":-8,"y":3},{"s":"Early","k":12,"x":-16,"y":-1},{"s":"Early","k":12,"x":-24,"y":4},{"s":"Early","k":12,"x":-32,"y":1},
{"s":"Late","k":1,"x":0,"y":0},{"s":"Late","k":1,"x":-12,"y":5},{"s":"Late","k":1,"x":-25,"y":12},{"s":"Late","k":1,"x":-38,"y":20},{"s":"Late","k":1,"x":-50,"y":30},{"s":"Late","k":1,"x":-60,"y":42},{"s":"Late","k":1,"x":-70,"y":52},{"s":"Late","k":1,"x":-80,"y":55},{"s":"Late","k":1,"x":-85,"y":58},
{"s":"Late","k":2,"x":0,"y":0},{"s":"Late","k":2,"x":-20,"y":-2},{"s":"Late","k":2,"x":-40,"y":-4},{"s":"Late","k":2,"x":-60,"y":-6},{"s":"Late","k":2,"x":-80,"y":-8},{"s":"Late","k":2,"x":-95,"y":-10},{"s":"Late","k":2,"x":-110,"y":-12},
{"s":"Late","k":3,"x":0,"y":0},{"s":"Late","k":3,"x":-15,"y":-4},{"s":"Late","k":3,"x":-30,"y":-10},{"s":"Late","k":3,"x":-45,"y":-14},{"s":"Late","k":3,"x":-60,"y":-18},{"s":"Late","k":3,"x":-75,"y":-22},{"s":"Late","k":3,"x":-88,"y":-25},{"s":"Late","k":3,"x":-100,"y":-28},
{"s":"Late","k":4,"x":0,"y":0},{"s":"Late","k":4,"x":-8,"y":-8},{"s":"Late","k":4,"x":-14,"y":-18},{"s":"Late","k":4,"x":-18,"y":-26},{"s":"Late","k":4,"x":-22,"y":-38},{"s":"Late","k":4,"x":-25,"y":-48},
{"s":"Late","k":5,"x":0,"y":0},{"s":"Late","k":5,"x":-15,"y":4},{"s":"Late","k":5,"x":-30,"y":6},{"s":"Late","k":5,"x":-45,"y":10},{"s":"Late","k":5,"x":-60,"y":12},{"s":"Late","k":5,"x":-70,"y":18},{"s":"Late","k":5,"x":-80,"y":25},
{"s":"Late","k":6,"x":0,"y":0},{"s":"Late","k":6,"x":-20,"y":2},{"s":"Late","k":6,"x":-40,"y":2},{"s":"Late","k":6,"x":-60,"y":3},{"s":"Late","k":6,"x":-80,"y":4},{"s":"Late","k":6,"x":-95,"y":4},
{"s":"Late","k":7,"x":0,"y":0},{"s":"Late","k":7,"x":-15,"y":-8},{"s":"Late","k":7,"x":-30,"y":-16},{"s":"Late","k":7,"x":-45,"y":-22},{"s":"Late","k":7,"x":-55,"y":-30},{"s":"Late","k":7,"x":-70,"y":-35},
{"s":"Late","k":8,"x":0,"y":0},{"s":"Late","k":8,"x":-10,"y":6},{"s":"Late","k":8,"x":-20,"y":12},{"s":"Late","k":8,"x":-30,"y":20},{"s":"Late","k":8,"x":-38,"y":28},
{"s":"Late","k":9,"x":0,"y":0},{"s":"Late","k":9,"x":-12,"y":-6},{"s":"Late","k":9,"x":-25,"y":-14},{"s":"Late","k":9,"x":-35,"y":-22},{"s":"Late","k":9,"x":-45,"y":-30},
{"s":"Late","k":10,"x":0,"y":0},{"s":"Late","k":10,"x":-6,"y":12},{"s":"Late","k":10,"x":-10,"y":22},{"s":"Late","k":10,"x":-15,"y":30},{"s":"Late","k":10,"x":-20,"y":36},
{"s":"Late","k":11,"x":0,"y":0},{"s":"Late","k":11,"x":-18,"y":-2},{"s":"Late","k":11,"x":-36,"y":-6},{"s":"Late","k":11,"x":-54,"y":-8},{"s":"Late","k":11,"x":-70,"y":-12},{"s":"Late","k":11,"x":-84,"y":-20},
{"s":"Late","k":12,"x":0,"y":0},{"s":"Late","k":12,"x":-12,"y":2},{"s":"Late","k":12,"x":-24,"y":0},{"s":"Late","k":12,"x":-36,"y":4},{"s":"Late","k":12,"x":-48,"y":2},
{"s":"Late","k":13,"x":0,"y":0},{"s":"Late","k":13,"x":-10,"y":-10},{"s":"Late","k":13,"x":-18,"y":-18},{"s":"Late","k":13,"x":-28,"y":-24},{"s":"Late","k":13,"x":-36,"y":-30},
{"s":"Late","k":14,"x":0,"y":0},{"s":"Late","k":14,"x":4,"y":4},{"s":"Late","k":14,"x":2,"y":8},
{"s":"Late","k":15,"x":0,"y":0},{"s":"Late","k":15,"x":-14,"y":10},{"s":"Late","k":15,"x":-28,"y":16},{"s":"Late","k":15,"x":-42,"y":20},{"s":"Late","k":15,"x":-56,"y":26},
{"s":"Late","k":16,"x":0,"y":0},{"s":"Late","k":16,"x":-10,"y":2},{"s":"Late","k":16,"x":-20,"y":-3},{"s":"Late","k":16,"x":-30,"y":2},{"s":"Late","k":16,"x":-40,"y":-2},{"s":"Late","k":16,"x":-50,"y":0},{"s":"Late","k":16,"x":-60,"y":-4},
{"s":"Late","k":17,"x":0,"y":0},{"s":"Late","k":17,"x":-8,"y":-4},{"s":"Late","k":17,"x":-16,"y":-2},{"s":"Late","k":17,"x":-24,"y":-8},{"s":"Late","k":17,"x":-32,"y":-6},{"s":"Late","k":17,"x":-40,"y":-10},
{"s":"Late","k":18,"x":0,"y":0},{"s":"Late","k":18,"x":-10,"y":4},{"s":"Late","k":18,"x":-20,"y":2},{"s":"Late","k":18,"x":-30,"y":6},{"s":"Late","k":18,"x":-40,"y":4}
],
"vel":[
{"s":"WT Stable","v":0,"p":10},{"s":"WT Stable","v":0.5,"p":25},{"s":"WT Stable","v":1,"p":11},{"s":"WT Stable","v":1.5,"p":4},{"s":"WT Stable","v":2,"p":2},{"s":"WT Stable","v":2.5,"p":0},{"s":"WT Stable","v":3,"p":0},{"s":"WT Stable","v":3.5,"p":0},{"s":"WT Stable","v":4,"p":0},{"s":"WT Stable","v":4.5,"p":0},{"s":"WT Stable","v":5,"p":0},
{"s":"WT Cont. Rise","v":0,"p":1},{"s":"WT Cont. Rise","v":0.5,"p":2},{"s":"WT Cont. Rise","v":1,"p":12},{"s":"WT Cont. Rise","v":1.5,"p":15},{"s":"WT Cont. Rise","v":2,"p":15},{"s":"WT Cont. Rise","v":2.5,"p":14},{"s":"WT Cont. Rise","v":3,"p":9},{"s":"WT Cont. Rise","v":3.5,"p":3},{"s":"WT Cont. Rise","v":4,"p":3},{"s":"WT Cont. Rise","v":4.5,"p":0.5},{"s":"WT Cont. Rise","v":5,"p":0},
{"s":"GRK3 -/- Stable","v":0,"p":2},{"s":"GRK3 -/- Stable","v":0.5,"p":10},{"s":"GRK3 -/- Stable","v":1,"p":9},{"s":"GRK3 -/- Stable","v":1.5,"p":17},{"s":"GRK3 -/- Stable","v":2,"p":17},{"s":"GRK3 -/- Stable","v":2.5,"p":11},{"s":"GRK3 -/- Stable","v":3,"p":7},{"s":"GRK3 -/- Stable","v":3.5,"p":1},{"s":"GRK3 -/- Stable","v":4,"p":0},{"s":"GRK3 -/- Stable","v":4.5,"p":1},{"s":"GRK3 -/- Stable","v":5,"p":0},
{"s":"GRK3 -/- Cont. Rise","v":0,"p":1.5},{"s":"GRK3 -/- Cont. Rise","v":0.5,"p":6},{"s":"GRK3 -/- Cont. Rise","v":1,"p":13},{"s":"GRK3 -/- Cont. Rise","v":1.5,"p":15},{"s":"GRK3 -/- Cont. Rise","v":2,"p":7},{"s":"GRK3 -/- Cont. Rise","v":2.5,"p":5},{"s":"GRK3 -/- Cont. Rise","v":3,"p":6},{"s":"GRK3 -/- Cont. Rise","v":3.5,"p":9},{"s":"GRK3 -/- Cont. Rise","v":4,"p":1},{"s":"GRK3 -/- Cont. Rise","v":4.5,"p":0.5},{"s":"GRK3 -/- Cont. Rise","v":5,"p":0}
],
"ang":[
{"g":1,"x":0.78,"v":139},{"g":1,"x":1.02,"v":136},{"g":1,"x":1.2,"v":136},{"g":1,"x":0.9,"v":121},{"g":1,"x":1.15,"v":110},{"g":1,"x":0.97,"v":104},{"g":1,"x":0.7,"v":97},{"g":1,"x":0.88,"v":97},{"g":1,"x":1.12,"v":95},{"g":1,"x":1.3,"v":96},{"g":1,"x":1.05,"v":92},{"g":1,"x":0.82,"v":88},{"g":1,"x":1.24,"v":87},{"g":1,"x":0.95,"v":82},{"g":1,"x":1.12,"v":80},{"g":1,"x":0.7,"v":76},{"g":1,"x":1.18,"v":73},{"g":1,"x":0.88,"v":70},{"g":1,"x":1.05,"v":69},{"g":1,"x":1.3,"v":66},{"g":1,"x":0.76,"v":63},{"g":1,"x":1.0,"v":60},{"g":1,"x":1.18,"v":58},{"g":1,"x":0.88,"v":55},{"g":1,"x":1.12,"v":52},{"g":1,"x":0.7,"v":48},{"g":1,"x":1.24,"v":46},{"g":1,"x":0.95,"v":44},{"g":1,"x":1.12,"v":41},{"g":1,"x":0.82,"v":38},{"g":1,"x":1.3,"v":36},{"g":1,"x":1.0,"v":35},{"g":1,"x":0.76,"v":33},{"g":1,"x":1.18,"v":30},{"g":1,"x":0.95,"v":27},{"g":1,"x":1.3,"v":25},{"g":1,"x":0.76,"v":22},{"g":1,"x":1.06,"v":20},{"g":1,"x":0.88,"v":17},{"g":1,"x":1.24,"v":16},{"g":1,"x":0.7,"v":13},{"g":1,"x":1.12,"v":10},{"g":1,"x":0.95,"v":8},{"g":1,"x":1.18,"v":6},{"g":1,"x":0.88,"v":1},{"g":1,"x":1.12,"v":1},
{"g":2,"x":2.05,"v":101},{"g":2,"x":1.95,"v":97},{"g":2,"x":2.18,"v":86},{"g":2,"x":1.88,"v":74},{"g":2,"x":2.24,"v":70},{"g":2,"x":1.76,"v":68},{"g":2,"x":2.12,"v":64},{"g":2,"x":1.7,"v":61},{"g":2,"x":2.26,"v":59},{"g":2,"x":2.0,"v":57},{"g":2,"x":1.82,"v":55},{"g":2,"x":2.32,"v":53},{"g":2,"x":2.12,"v":51},{"g":2,"x":1.94,"v":49},{"g":2,"x":1.76,"v":47},{"g":2,"x":2.18,"v":45},{"g":2,"x":2.0,"v":43},{"g":2,"x":2.3,"v":41},{"g":2,"x":1.7,"v":39},{"g":2,"x":2.12,"v":38},{"g":2,"x":1.88,"v":36},{"g":2,"x":2.24,"v":35},{"g":2,"x":1.76,"v":33},{"g":2,"x":2.06,"v":32},{"g":2,"x":2.32,"v":30},{"g":2,"x":1.82,"v":29},{"g":2,"x":2.12,"v":27},{"g":2,"x":1.94,"v":26},{"g":2,"x":1.7,"v":25},{"g":2,"x":2.24,"v":23},{"g":2,"x":2.0,"v":22},{"g":2,"x":1.82,"v":21},{"g":2,"x":2.18,"v":20},{"g":2,"x":1.7,"v":18},{"g":2,"x":2.06,"v":17},{"g":2,"x":2.32,"v":16},{"g":2,"x":1.88,"v":15},{"g":2,"x":2.12,"v":13},{"g":2,"x":1.76,"v":12},{"g":2,"x":2.24,"v":11},{"g":2,"x":2.0,"v":10},{"g":2,"x":1.82,"v":9},{"g":2,"x":2.18,"v":8},{"g":2,"x":1.94,"v":7},{"g":2,"x":2.3,"v":6},{"g":2,"x":1.7,"v":5},{"g":2,"x":2.06,"v":4},{"g":2,"x":1.88,"v":3},{"g":2,"x":2.12,"v":2},{"g":2,"x":2.0,"v":1},{"g":2,"x":1.94,"v":0},
{"g":3,"x":2.88,"v":180},{"g":3,"x":2.76,"v":133},{"g":3,"x":3.06,"v":125},{"g":3,"x":2.88,"v":101},{"g":3,"x":3.24,"v":87},{"g":3,"x":2.7,"v":84},{"g":3,"x":2.94,"v":82},{"g":3,"x":3.12,"v":80},{"g":3,"x":2.82,"v":76},{"g":3,"x":3.3,"v":73},{"g":3,"x":3.0,"v":71},{"g":3,"x":2.64,"v":68},{"g":3,"x":3.18,"v":66},{"g":3,"x":2.88,"v":62},{"g":3,"x":3.36,"v":60},{"g":3,"x":3.06,"v":58},{"g":3,"x":2.76,"v":55},{"g":3,"x":3.24,"v":53},{"g":3,"x":2.94,"v":51},{"g":3,"x":3.36,"v":49},{"g":3,"x":2.64,"v":47},{"g":3,"x":3.12,"v":45},{"g":3,"x":2.82,"v":43},{"g":3,"x":3.24,"v":41},{"g":3,"x":2.7,"v":39},{"g":3,"x":3.0,"v":37},{"g":3,"x":3.36,"v":36},{"g":3,"x":2.88,"v":34},{"g":3,"x":3.18,"v":32},{"g":3,"x":2.64,"v":30},{"g":3,"x":3.06,"v":29},{"g":3,"x":3.3,"v":27},{"g":3,"x":2.76,"v":25},{"g":3,"x":3.12,"v":24},{"g":3,"x":2.94,"v":22},{"g":3,"x":3.36,"v":21},{"g":3,"x":2.7,"v":19},{"g":3,"x":3.18,"v":18},{"g":3,"x":3.0,"v":16},{"g":3,"x":2.82,"v":14},{"g":3,"x":3.24,"v":13},{"g":3,"x":2.64,"v":11},{"g":3,"x":3.06,"v":10},{"g":3,"x":3.3,"v":8},{"g":3,"x":2.88,"v":6},{"g":3,"x":3.36,"v":5},{"g":3,"x":2.7,"v":3},{"g":3,"x":3.12,"v":1},{"g":3,"x":2.94,"v":0},
{"g":4,"x":3.7,"v":124},{"g":4,"x":4.3,"v":123},{"g":4,"x":4.12,"v":119},{"g":4,"x":3.94,"v":95},{"g":4,"x":3.76,"v":87},{"g":4,"x":4.36,"v":86},{"g":4,"x":4.0,"v":84},{"g":4,"x":4.18,"v":79},{"g":4,"x":3.88,"v":77},{"g":4,"x":4.3,"v":73},{"g":4,"x":3.7,"v":70},{"g":4,"x":4.06,"v":66},{"g":4,"x":4.24,"v":63},{"g":4,"x":3.82,"v":60},{"g":4,"x":4.12,"v":57},{"g":4,"x":3.64,"v":55},{"g":4,"x":4.36,"v":53},{"g":4,"x":4.0,"v":50},{"g":4,"x":3.76,"v":48},{"g":4,"x":4.18,"v":46},{"g":4,"x":3.94,"v":44},{"g":4,"x":4.3,"v":42},{"g":4,"x":3.64,"v":40},{"g":4,"x":4.12,"v":38},{"g":4,"x":3.88,"v":36},{"g":4,"x":4.36,"v":34},{"g":4,"x":3.76,"v":33},{"g":4,"x":4.06,"v":31},{"g":4,"x":4.24,"v":29},{"g":4,"x":3.7,"v":27},{"g":4,"x":4.0,"v":26},{"g":4,"x":4.36,"v":24},{"g":4,"x":3.82,"v":22},{"g":4,"x":4.18,"v":21},{"g":4,"x":3.64,"v":19},{"g":4,"x":4.06,"v":18},{"g":4,"x":4.3,"v":16},{"g":4,"x":3.88,"v":14},{"g":4,"x":4.12,"v":13},{"g":4,"x":3.76,"v":11},{"g":4,"x":4.24,"v":10},{"g":4,"x":4.0,"v":8},{"g":4,"x":3.7,"v":7},{"g":4,"x":4.18,"v":5},{"g":4,"x":3.94,"v":3},{"g":4,"x":4.12,"v":1},{"g":4,"x":4.0,"v":0}
]
},
"columns":2,
"spacing":{"row":20,"column":88},
"bounds":"flush",
"align":{"row":"each","column":"each"},
"concat":[
{"width":229,"height":196,
 "title":{"text":"WT BMDC in Rising then Stable  CCL19 Gradient","offset":14,"dy":40},
 "layer":[
  {"data":{"name":"a1"},"mark":{"type":"line","strokeWidth":1.8},
   "encoding":{
    "x":{"field":"x","type":"quantitative","scale":{"domain":[-120,50],"nice":false,"zero":false},"axis":{"title":"X Position  (μm)","values":[-120,-100,-80,-60,-40,-20,0,20,40],"tickCount":30,"labelOverlap":false,"labelFlush":false,"tickSize":-6,"labelPadding":10,"labelFontSize":8,"titleFontSize":13,"titlePadding":8,"domainWidth":2,"tickWidth":1.5,"labelColor":"#222"}},
    "y":{"field":"y","type":"quantitative","scale":{"domain":[-100,100],"nice":false,"zero":false},"axis":{"title":"Y Position  (μm)","offset":-6,"values":[-100,-80,-60,-40,-20,0,20,40,60,80,100],"tickCount":30,"labelOverlap":false,"labelFlush":false,"tickSize":3,"labelPadding":2,"labelFontSize":8,"titleFontSize":13,"titlePadding":3,"domainWidth":2,"tickWidth":1.5,"labelColor":"#222"}},
    "detail":{"field":"k"},
    "order":{"value":null},
    "color":{"field":"s","type":"nominal","scale":{"domain":["Rising","Stable"],"range":["#1414f0","#f01414"]},"legend":{"title":null,"orient":"top-left","offset":11,"strokeColor":"black","fillColor":"white","padding":2,"labelFontSize":8,"symbolType":"stroke","symbolStrokeWidth":2.5,"symbolSize":550,"rowPadding":0,"labelOffset":4}}}},
  {"data":{"values":[{}]},"mark":{"type":"rule","strokeWidth":2,"color":"black"},"encoding":{"x":{"datum":0,"type":"quantitative"}}},
  {"data":{"values":[{}]},"mark":{"type":"rule","strokeWidth":2,"color":"black"},"encoding":{"y":{"datum":0,"type":"quantitative"}}},
  {"data":{"values":[{}]},"mark":{"type":"text","fontSize":16,"align":"left","baseline":"middle"},"encoding":{"x":{"datum":-161,"type":"quantitative"},"y":{"datum":135,"type":"quantitative"},"text":{"value":"A"}}}
 ]},
{"width":228,"height":196,
 "title":{"text":"WT BMDC in continuously  Rising CCL19  Gradient","offset":14},
 "layer":[
  {"data":{"name":"a2"},"mark":{"type":"line","strokeWidth":1.8},
   "encoding":{
    "x":{"field":"x","type":"quantitative","scale":{"domain":[-120,50],"nice":false,"zero":false},"axis":{"title":"X Position  (μm)","values":[-120,-100,-80,-60,-40,-20,0,20,40],"tickCount":30,"labelOverlap":false,"labelFlush":false,"tickSize":-6,"labelPadding":10,"labelFontSize":8,"titleFontSize":13,"titlePadding":8,"domainWidth":2,"tickWidth":1.5,"labelColor":"#222"}},
    "y":{"field":"y","type":"quantitative","scale":{"domain":[-100,100],"nice":false,"zero":false},"axis":{"title":"Y Position  (μm)","offset":-5,"values":[-100,-80,-60,-40,-20,0,20,40,60,80,100],"tickCount":30,"labelOverlap":false,"labelFlush":false,"labelExpr":"datum.value === 0 ? '' : datum.label","tickSize":3,"labelPadding":2,"labelFontSize":8,"titleFontSize":13,"titlePadding":3,"domainWidth":2,"tickWidth":1.5,"labelColor":"#222"}},
    "detail":{"field":"k"},
    "order":{"value":null},
    "color":{"field":"s","type":"nominal","scale":{"domain":["Early","Late"],"range":["#1414f0","#f01414"]},"legend":{"title":null,"orient":"top-left","offset":10,"strokeColor":"black","fillColor":"white","padding":2,"labelFontSize":7,"symbolType":"stroke","symbolStrokeWidth":2.5,"symbolSize":550,"rowPadding":0,"labelOffset":4}}}},
  {"data":{"values":[{}]},"mark":{"type":"rule","strokeWidth":2,"color":"black"},"encoding":{"x":{"datum":0,"type":"quantitative"}}},
  {"data":{"values":[{}]},"mark":{"type":"rule","strokeWidth":2,"color":"black"},"encoding":{"y":{"datum":0,"type":"quantitative"}}}
 ]},
{"width":1,"height":43,"data":{"values":[{}]},"mark":{"type":"point","opacity":0},"encoding":{}},
{"width":1,"height":43,"data":{"values":[{}]},"mark":{"type":"point","opacity":0},"encoding":{}},
{"width":229,"height":194,
 "title":{"text":"Grk3⁻/⁻ BMDC in Rising then Stable  CCL19 Gradient","offset":14},
 "layer":[
  {"data":{"name":"a3"},"mark":{"type":"line","strokeWidth":1.8},
   "encoding":{
    "x":{"field":"x","type":"quantitative","scale":{"domain":[-120,50],"nice":false,"zero":false},"axis":{"title":"X Position  (μm)","values":[-120,-100,-80,-60,-40,-20,0,20,40],"tickCount":30,"labelOverlap":false,"labelFlush":false,"tickSize":-6,"labelPadding":10,"labelFontSize":8,"titleFontSize":13,"titlePadding":8,"domainWidth":2,"tickWidth":1.5,"labelColor":"#222"}},
    "y":{"field":"y","type":"quantitative","scale":{"domain":[-100,100],"nice":false,"zero":false},"axis":{"title":"Y Position  (μm)","offset":-5,"values":[-100,-80,-60,-40,-20,0,20,40,60,80,100],"tickCount":30,"labelOverlap":false,"labelFlush":false,"tickSize":3,"labelPadding":2,"labelFontSize":8,"titleFontSize":13,"titlePadding":3,"domainWidth":2,"tickWidth":1.5,"labelColor":"#222"}},
    "detail":{"field":"k"},
    "order":{"value":null},
    "color":{"field":"s","type":"nominal","scale":{"domain":["Rising","Stable"],"range":["#1414f0","#f01414"]},"legend":{"title":null,"orient":"top-left","offset":10,"strokeColor":"black","fillColor":"white","padding":2,"labelFontSize":8,"symbolType":"stroke","symbolStrokeWidth":2.5,"symbolSize":550,"rowPadding":0,"labelOffset":4}}}},
  {"data":{"values":[{}]},"mark":{"type":"rule","strokeWidth":2,"color":"black"},"encoding":{"x":{"datum":0,"type":"quantitative"}}},
  {"data":{"values":[{}]},"mark":{"type":"rule","strokeWidth":2,"color":"black"},"encoding":{"y":{"datum":0,"type":"quantitative"}}}
 ]},
{"width":228,"height":194,
 "title":{"text":"Grk3⁻/⁻ BMDC in continuously  Rising CCL19  Gradient","offset":14},
 "layer":[
  {"data":{"name":"a4"},"mark":{"type":"line","strokeWidth":1.8},
   "encoding":{
    "x":{"field":"x","type":"quantitative","scale":{"domain":[-120,50],"nice":false,"zero":false},"axis":{"title":"X Position  (μm)","values":[-120,-100,-80,-60,-40,-20,0,20,40],"tickCount":30,"labelOverlap":false,"labelFlush":false,"tickSize":-6,"labelPadding":10,"labelFontSize":8,"titleFontSize":13,"titlePadding":8,"domainWidth":2,"tickWidth":1.5,"labelColor":"#222"}},
    "y":{"field":"y","type":"quantitative","scale":{"domain":[-100,100],"nice":false,"zero":false},"axis":{"title":"Y Position  (μm)","offset":-5,"values":[-100,-80,-60,-40,-20,0,20,40,60,80,100],"tickCount":30,"labelOverlap":false,"labelFlush":false,"tickSize":3,"labelPadding":2,"labelFontSize":8,"titleFontSize":13,"titlePadding":3,"domainWidth":2,"tickWidth":1.5,"labelColor":"#222"}},
    "detail":{"field":"k"},
    "order":{"value":null},
    "color":{"field":"s","type":"nominal","scale":{"domain":["Early","Late"],"range":["#1414f0","#f01414"]},"legend":{"title":null,"orient":"top-left","offset":10,"strokeColor":"black","fillColor":"white","padding":2,"labelFontSize":7,"symbolType":"stroke","symbolStrokeWidth":2.5,"symbolSize":550,"rowPadding":0,"labelOffset":4}}}},
  {"data":{"values":[{}]},"mark":{"type":"rule","strokeWidth":2,"color":"black"},"encoding":{"x":{"datum":0,"type":"quantitative"}}},
  {"data":{"values":[{}]},"mark":{"type":"rule","strokeWidth":2,"color":"black"},"encoding":{"y":{"datum":0,"type":"quantitative"}}}
 ]},
{"width":1,"height":55,"data":{"values":[{}]},"mark":{"type":"point","opacity":0},"encoding":{}},
{"width":1,"height":55,"data":{"values":[{}]},"mark":{"type":"point","opacity":0},"encoding":{}},
{"width":203,"height":133,
 "data":{"values":[{"i":1,"g":"WT","m":0.62,"hi":0.83},{"i":2,"g":"GRK3","m":0.58,"hi":0.80},{"i":3,"g":"WT","m":0.31,"hi":0.62},{"i":4,"g":"GRK3","m":0.64,"hi":0.88}]},
 "layer":[
  {"mark":{"type":"rule","strokeWidth":2.5,"color":"black"},
   "encoding":{
    "x":{"field":"i","type":"quantitative","scale":{"domain":[0.45,4.5],"nice":false,"zero":false},"axis":{"title":null,"values":[1,2,3,4],"tickCount":30,"labelOverlap":false,"labelFlush":false,"labelExpr":"datum.value == 1 || datum.value == 3 ? 'WT' : 'GRK3 -/-'","tickSize":4,"labelPadding":3,"labelFontSize":8,"labelFontWeight":"bold","domainWidth":2,"tickWidth":2}},
    "y":{"field":"m","type":"quantitative","scale":{"domain":[0,1],"nice":false},"axis":{"title":"Migratory Persistence in X","values":[0,0.2,0.4,0.6,0.8,1],"tickCount":30,"labelOverlap":false,"labelFlush":false,"format":".1f","tickSize":3,"labelPadding":1,"labelFontSize":10,"labelFontWeight":"bold","titleFontSize":12,"titlePadding":7,"domainWidth":2,"tickWidth":2}},
    "y2":{"field":"hi"}}},
  {"mark":{"type":"bar","width":33,"stroke":"black","strokeWidth":3,"orient":"vertical"},
   "encoding":{"x":{"field":"i","type":"quantitative"},"y":{"field":"m","type":"quantitative"},"fill":{"field":"g","type":"nominal","scale":{"domain":["WT","GRK3"],"range":["black","white"]},"legend":null}}},
  {"mark":{"type":"point","shape":"M-1,0L1,0","size":324,"stroke":"black","strokeWidth":2.5,"filled":false,"opacity":1},
   "encoding":{"x":{"field":"i","type":"quantitative"},"y":{"field":"hi","type":"quantitative"}}},
  {"data":{"values":[{"a":1,"b":2,"c":1.5,"y":0.947,"t":"ns, p=0.335"},{"a":1,"b":3,"c":2,"y":1.075,"t":"p<0.0001"},{"a":2,"b":4,"c":3,"y":1.195,"t":"ns, p=0.133"},{"a":3,"b":4,"c":3.5,"y":0.947,"t":"p<0.0001"}]},
   "layer":[
    {"mark":{"type":"rule","strokeWidth":3.5,"color":"black"},"encoding":{"x":{"field":"a","type":"quantitative"},"x2":{"field":"b"},"y":{"field":"y","type":"quantitative"}}},
    {"mark":{"type":"text","fontSize":8,"baseline":"bottom","dy":-3,"color":"#333"},"encoding":{"x":{"field":"c","type":"quantitative"},"y":{"field":"y","type":"quantitative"},"text":{"field":"t"}}}
   ]},
  {"data":{"values":[{"a":0.72,"b":2.28,"c":1.5,"t":"Rising"},{"a":2.72,"b":4.28,"c":3.5,"t":"Stable"}]},
   "layer":[
    {"mark":{"type":"rule","strokeWidth":4,"color":"black"},"encoding":{"x":{"field":"a","type":"quantitative"},"x2":{"field":"b"},"y":{"datum":-0.173,"type":"quantitative"}}},
    {"mark":{"type":"text","fontSize":12,"baseline":"middle"},"encoding":{"x":{"field":"c","type":"quantitative"},"y":{"datum":-0.295,"type":"quantitative"},"text":{"field":"t"}}}
   ]},
  {"data":{"values":[{}]},"mark":{"type":"text","fontSize":16,"align":"left","baseline":"middle"},"encoding":{"x":{"datum":-0.87,"type":"quantitative"},"y":{"datum":1.13,"type":"quantitative"},"text":{"value":"B"}}}
 ]},
{"width":200,"height":133,
 "data":{"values":[{"i":1,"g":"S","m":0.31,"hi":0.62},{"i":2,"g":"C","m":0.75,"hi":0.88},{"i":3,"g":"S","m":0.64,"hi":0.88},{"i":4,"g":"C","m":0.72,"hi":0.89}]},
 "layer":[
  {"mark":{"type":"rule","strokeWidth":2.5,"color":"black"},
   "encoding":{
    "x":{"field":"i","type":"quantitative","scale":{"domain":[0.5,4.5],"range":[-25,175],"nice":false,"zero":false},"axis":{"title":null,"values":[1,2,3,4],"tickCount":30,"labelOverlap":false,"labelFlush":false,"labelExpr":"datum.value == 1 || datum.value == 3 ? 'Stable' : 'Cont. Rise'","tickSize":4,"labelPadding":3,"labelFontSize":8,"labelFontWeight":"bold","domainWidth":2,"tickWidth":2}},
    "y":{"field":"m","type":"quantitative","scale":{"domain":[0,1],"nice":false},"axis":{"title":"Migratory Persistence in X","offset":25,"values":[0,0.2,0.4,0.6,0.8,1],"tickCount":30,"labelOverlap":false,"labelFlush":false,"format":".1f","tickSize":3,"labelPadding":1,"labelFontSize":10,"labelFontWeight":"bold","titleFontSize":12,"titlePadding":7,"domainWidth":2,"tickWidth":2}},
    "y2":{"field":"hi"}}},
  {"mark":{"type":"bar","width":33,"stroke":"black","strokeWidth":3,"orient":"vertical"},
   "encoding":{"x":{"field":"i","type":"quantitative"},"y":{"field":"m","type":"quantitative"},"fill":{"field":"g","type":"nominal","scale":{"domain":["S","C"],"range":["black","white"]},"legend":null}}},
  {"mark":{"type":"point","shape":"M-1,0L1,0","size":324,"stroke":"black","strokeWidth":2.5,"filled":false,"opacity":1},
   "encoding":{"x":{"field":"i","type":"quantitative"},"y":{"field":"hi","type":"quantitative"}}},
  {"data":{"values":[{"a":1,"b":2,"c":1.5,"y":0.977,"t":"p<0.0001"},{"a":1,"b":3,"c":2,"y":1.098,"t":"p<0.0001"},{"a":2,"b":4,"c":3,"y":1.22,"t":"ns, p=0.352"},{"a":3,"b":4,"c":3.5,"y":0.977,"t":"p=0.0287"}]},
   "layer":[
    {"mark":{"type":"rule","strokeWidth":3.5,"color":"black"},"encoding":{"x":{"field":"a","type":"quantitative"},"x2":{"field":"b"},"y":{"field":"y","type":"quantitative"}}},
    {"mark":{"type":"text","fontSize":8,"baseline":"bottom","dy":-3,"color":"#333"},"encoding":{"x":{"field":"c","type":"quantitative"},"y":{"field":"y","type":"quantitative"},"text":{"field":"t"}}}
   ]},
  {"data":{"values":[{"a":0.72,"b":2.28},{"a":2.72,"b":4.28}]},
   "mark":{"type":"rule","strokeWidth":4,"color":"black"},"encoding":{"x":{"field":"a","type":"quantitative"},"x2":{"field":"b"},"y":{"datum":-0.173,"type":"quantitative"}}},
  {"data":{"values":[{"c":1.5,"t":"WT"}]},"mark":{"type":"text","fontSize":12,"baseline":"middle"},"encoding":{"x":{"field":"c","type":"quantitative"},"y":{"datum":-0.295,"type":"quantitative"},"text":{"field":"t"}}},
  {"data":{"values":[{"c":3.5,"t":"Grk3⁻/⁻"}]},"mark":{"type":"text","fontSize":12,"baseline":"middle","fontStyle":"italic"},"encoding":{"x":{"field":"c","type":"quantitative"},"y":{"datum":-0.295,"type":"quantitative"},"text":{"field":"t"}}}
 ]},
{"width":1,"height":88,"data":{"values":[{}]},"mark":{"type":"point","opacity":0},"encoding":{}},
{"width":1,"height":88,"data":{"values":[{}]},"mark":{"type":"point","opacity":0},"encoding":{}},
{"width":200,"height":133,
 "resolve":{"scale":{"shape":"independent","fill":"independent","stroke":"independent"}},
 "layer":[
  {"data":{"name":"vel"},"mark":{"type":"line","strokeWidth":2,"color":"black"},
   "encoding":{
    "x":{"field":"v","type":"quantitative","scale":{"domain":[-0.12,5.2],"nice":false,"zero":false},"axis":{"title":"Instantaneous  Velocity (μm / min)","values":[0,0.5,1,1.5,2,2.5,3,3.5,4,4.5,5],"tickCount":30,"labelOverlap":false,"labelFlush":false,"format":".1f","labelAngle":-45,"labelFontSize":8,"labelFontWeight":"bold","tickSize":4,"labelPadding":2,"titleFontSize":12,"titlePadding":11,"domainWidth":2,"tickWidth":2}},
    "y":{"field":"p","type":"quantitative","scale":{"domain":[0,30],"nice":false},"axis":{"title":"Percent  Distribution (%)","values":[0,10,20,30],"tickCount":30,"labelOverlap":false,"labelFlush":false,"tickSize":4,"labelPadding":1,"labelFontSize":10,"labelFontWeight":"bold","titleFontSize":12,"titlePadding":8,"domainWidth":2,"tickWidth":2}},
    "detail":{"field":"s"}}},
  {"data":{"name":"vel"},"mark":{"type":"point","filled":true,"stroke":"black","strokeWidth":1.8,"opacity":1},
   "encoding":{
    "x":{"field":"v","type":"quantitative"},
    "y":{"field":"p","type":"quantitative"},
    "shape":{"field":"s","type":"nominal","scale":{"domain":["WT Stable","WT Cont. Rise","GRK3 -/- Stable","GRK3 -/- Cont. Rise"],"range":["circle","circle","square","square"]},"legend":null},
    "fill":{"field":"s","type":"nominal","scale":{"domain":["WT Stable","WT Cont. Rise","GRK3 -/- Stable","GRK3 -/- Cont. Rise"],"range":["white","black","white","black"]},"legend":null},
    "size":{"field":"s","type":"nominal","scale":{"domain":["WT Stable","WT Cont. Rise","GRK3 -/- Stable","GRK3 -/- Cont. Rise"],"range":[40,12,42,28]},"legend":null}}},
  {"data":{"values":[]},"mark":{"type":"point","filled":true,"strokeWidth":1.8,"opacity":1},
   "encoding":{
    "shape":{"field":"s","type":"nominal","scale":{"domain":["WT Stable","WT Cont. Rise","GRK3 -/- Stable","GRK3 -/- Cont. Rise"],"range":["M-1,0L1,0M-0.33,0A0.33,0.33,0,1,1,0.33,0A0.33,0.33,0,1,1,-0.33,0Z","M-1,0L1,0M-0.2,0A0.2,0.2,0,1,1,0.2,0A0.2,0.2,0,1,1,-0.2,0Z","M-1,0L1,0M-0.3,-0.3L0.3,-0.3L0.3,0.3L-0.3,0.3Z","M-1,0L1,0M-0.28,-0.28L0.28,-0.28L0.28,0.28L-0.28,0.28Z"]},"legend":{"title":null,"orient":"top-right","offset":0,"labelFontSize":8,"labelFontWeight":"bold","symbolSize":400,"symbolStrokeWidth":2,"rowPadding":-7,"labelOffset":3,"padding":0}},
    "fill":{"field":"s","type":"nominal","scale":{"domain":["WT Stable","WT Cont. Rise","GRK3 -/- Stable","GRK3 -/- Cont. Rise"],"range":["white","black","white","black"]},"legend":{"title":null,"orient":"top-right","offset":0,"labelFontSize":8,"labelFontWeight":"bold","symbolSize":400,"symbolStrokeWidth":2,"rowPadding":-7,"labelOffset":3,"padding":0}},
    "stroke":{"field":"s","type":"nominal","scale":{"domain":["WT Stable","WT Cont. Rise","GRK3 -/- Stable","GRK3 -/- Cont. Rise"],"range":["black","black","black","black"]},"legend":{"title":null,"orient":"top-right","offset":0,"labelFontSize":8,"labelFontWeight":"bold","symbolSize":400,"symbolStrokeWidth":2,"rowPadding":-7,"labelOffset":3,"padding":0}}}},
  {"data":{"values":[{}]},"mark":{"type":"text","fontSize":16,"align":"left","baseline":"middle"},"encoding":{"x":{"datum":-1.875,"type":"quantitative"},"y":{"datum":32.4,"type":"quantitative"},"text":{"value":"C"}}}
 ]},
{"width":203,"height":132,
 "layer":[
  {"data":{"name":"ang"},"mark":{"type":"point","filled":true,"color":"black","opacity":1,"size":26},
   "encoding":{
    "x":{"field":"x","type":"quantitative","scale":{"domain":[0.38,4.46],"range":[-30,173],"nice":false,"zero":false},"axis":{"title":null,"values":[1,2,3,4],"tickCount":30,"labelOverlap":false,"labelFlush":false,"labelExpr":"datum.value == 1 || datum.value == 3 ? 'Stable' : 'Cont. Rise'","tickSize":4,"labelPadding":3,"labelFontSize":8,"labelFontWeight":"bold","domainWidth":2,"tickWidth":2}},
    "y":{"field":"v","type":"quantitative","scale":{"domain":[0,180],"nice":false},"axis":{"title":["Angle between  Leading  Edge","and  Gradient  Direction"],"offset":30,"values":[0,30,60,90,120,150,180],"tickCount":30,"labelOverlap":false,"labelFlush":false,"tickSize":4,"labelPadding":1,"labelFontSize":10,"labelFontWeight":"bold","titleFontSize":12,"titlePadding":-2,"titleLineHeight":12,"domainWidth":2,"tickWidth":2}},
    "shape":{"field":"g","type":"nominal","scale":{"domain":[1,2,3,4],"range":["circle","square","triangle-up","triangle-down"]},"legend":null}}},
  {"data":{"values":[{"i":1,"m":59,"lo":22,"hi":96},{"i":2,"m":33,"lo":9,"hi":57},{"i":3,"m":42,"lo":11,"hi":73},{"i":4,"m":37,"lo":8,"hi":66}]},
   "layer":[
    {"mark":{"type":"rule","strokeWidth":2,"color":"black"},"encoding":{"x":{"field":"i","type":"quantitative"},"y":{"field":"lo","type":"quantitative"},"y2":{"field":"hi"}}},
    {"mark":{"type":"point","shape":"M-1,0L1,0","size":1089,"stroke":"black","strokeWidth":2.5,"filled":false,"opacity":1},"encoding":{"x":{"field":"i","type":"quantitative"},"y":{"field":"m","type":"quantitative"}}},
    {"mark":{"type":"point","shape":"M-1,0L1,0","size":144,"stroke":"black","strokeWidth":2,"filled":false,"opacity":1},"encoding":{"x":{"field":"i","type":"quantitative"},"y":{"field":"hi","type":"quantitative"}}},
    {"mark":{"type":"point","shape":"M-1,0L1,0","size":144,"stroke":"black","strokeWidth":2,"filled":false,"opacity":1},"encoding":{"x":{"field":"i","type":"quantitative"},"y":{"field":"lo","type":"quantitative"}}}
   ]},
  {"data":{"values":[{"a":1,"b":2,"c":1.5,"y":191,"t":"p<0.0001"},{"a":1,"b":3,"c":2,"y":213,"t":"p=0.0059"},{"a":2,"b":4,"c":3,"y":235,"t":"ns, p=0.605"},{"a":3,"b":4,"c":3.5,"y":191,"t":"ns, p=0.301"}]},
   "layer":[
    {"mark":{"type":"rule","strokeWidth":3.5,"color":"black"},"encoding":{"x":{"field":"a","type":"quantitative"},"x2":{"field":"b"},"y":{"field":"y","type":"quantitative"}}},
    {"mark":{"type":"text","fontSize":8,"baseline":"bottom","dy":-3,"color":"#333"},"encoding":{"x":{"field":"c","type":"quantitative"},"y":{"field":"y","type":"quantitative"},"text":{"field":"t"}}}
   ]},
  {"data":{"values":[{"a":0.72,"b":2.28},{"a":2.72,"b":4.28}]},
   "mark":{"type":"rule","strokeWidth":4,"color":"black"},"encoding":{"x":{"field":"a","type":"quantitative"},"x2":{"field":"b"},"y":{"datum":-32.7,"type":"quantitative"}}},
  {"data":{"values":[{"c":1.5,"t":"WT"}]},"mark":{"type":"text","fontSize":12,"baseline":"middle"},"encoding":{"x":{"field":"c","type":"quantitative"},"y":{"datum":-55,"type":"quantitative"},"text":{"field":"t"}}},
  {"data":{"values":[{"c":3.5,"t":"Grk3⁻/⁻"}]},"mark":{"type":"text","fontSize":12,"baseline":"middle","fontStyle":"italic"},"encoding":{"x":{"field":"c","type":"quantitative"},"y":{"datum":-55,"type":"quantitative"},"text":{"field":"t"}}},
  {"data":{"values":[{}]},"mark":{"type":"text","fontSize":16,"align":"left","baseline":"middle"},"encoding":{"x":{"datum":-1.03,"type":"quantitative"},"y":{"datum":195.7,"type":"quantitative"},"text":{"value":"D"}}}
 ]}
]
}
